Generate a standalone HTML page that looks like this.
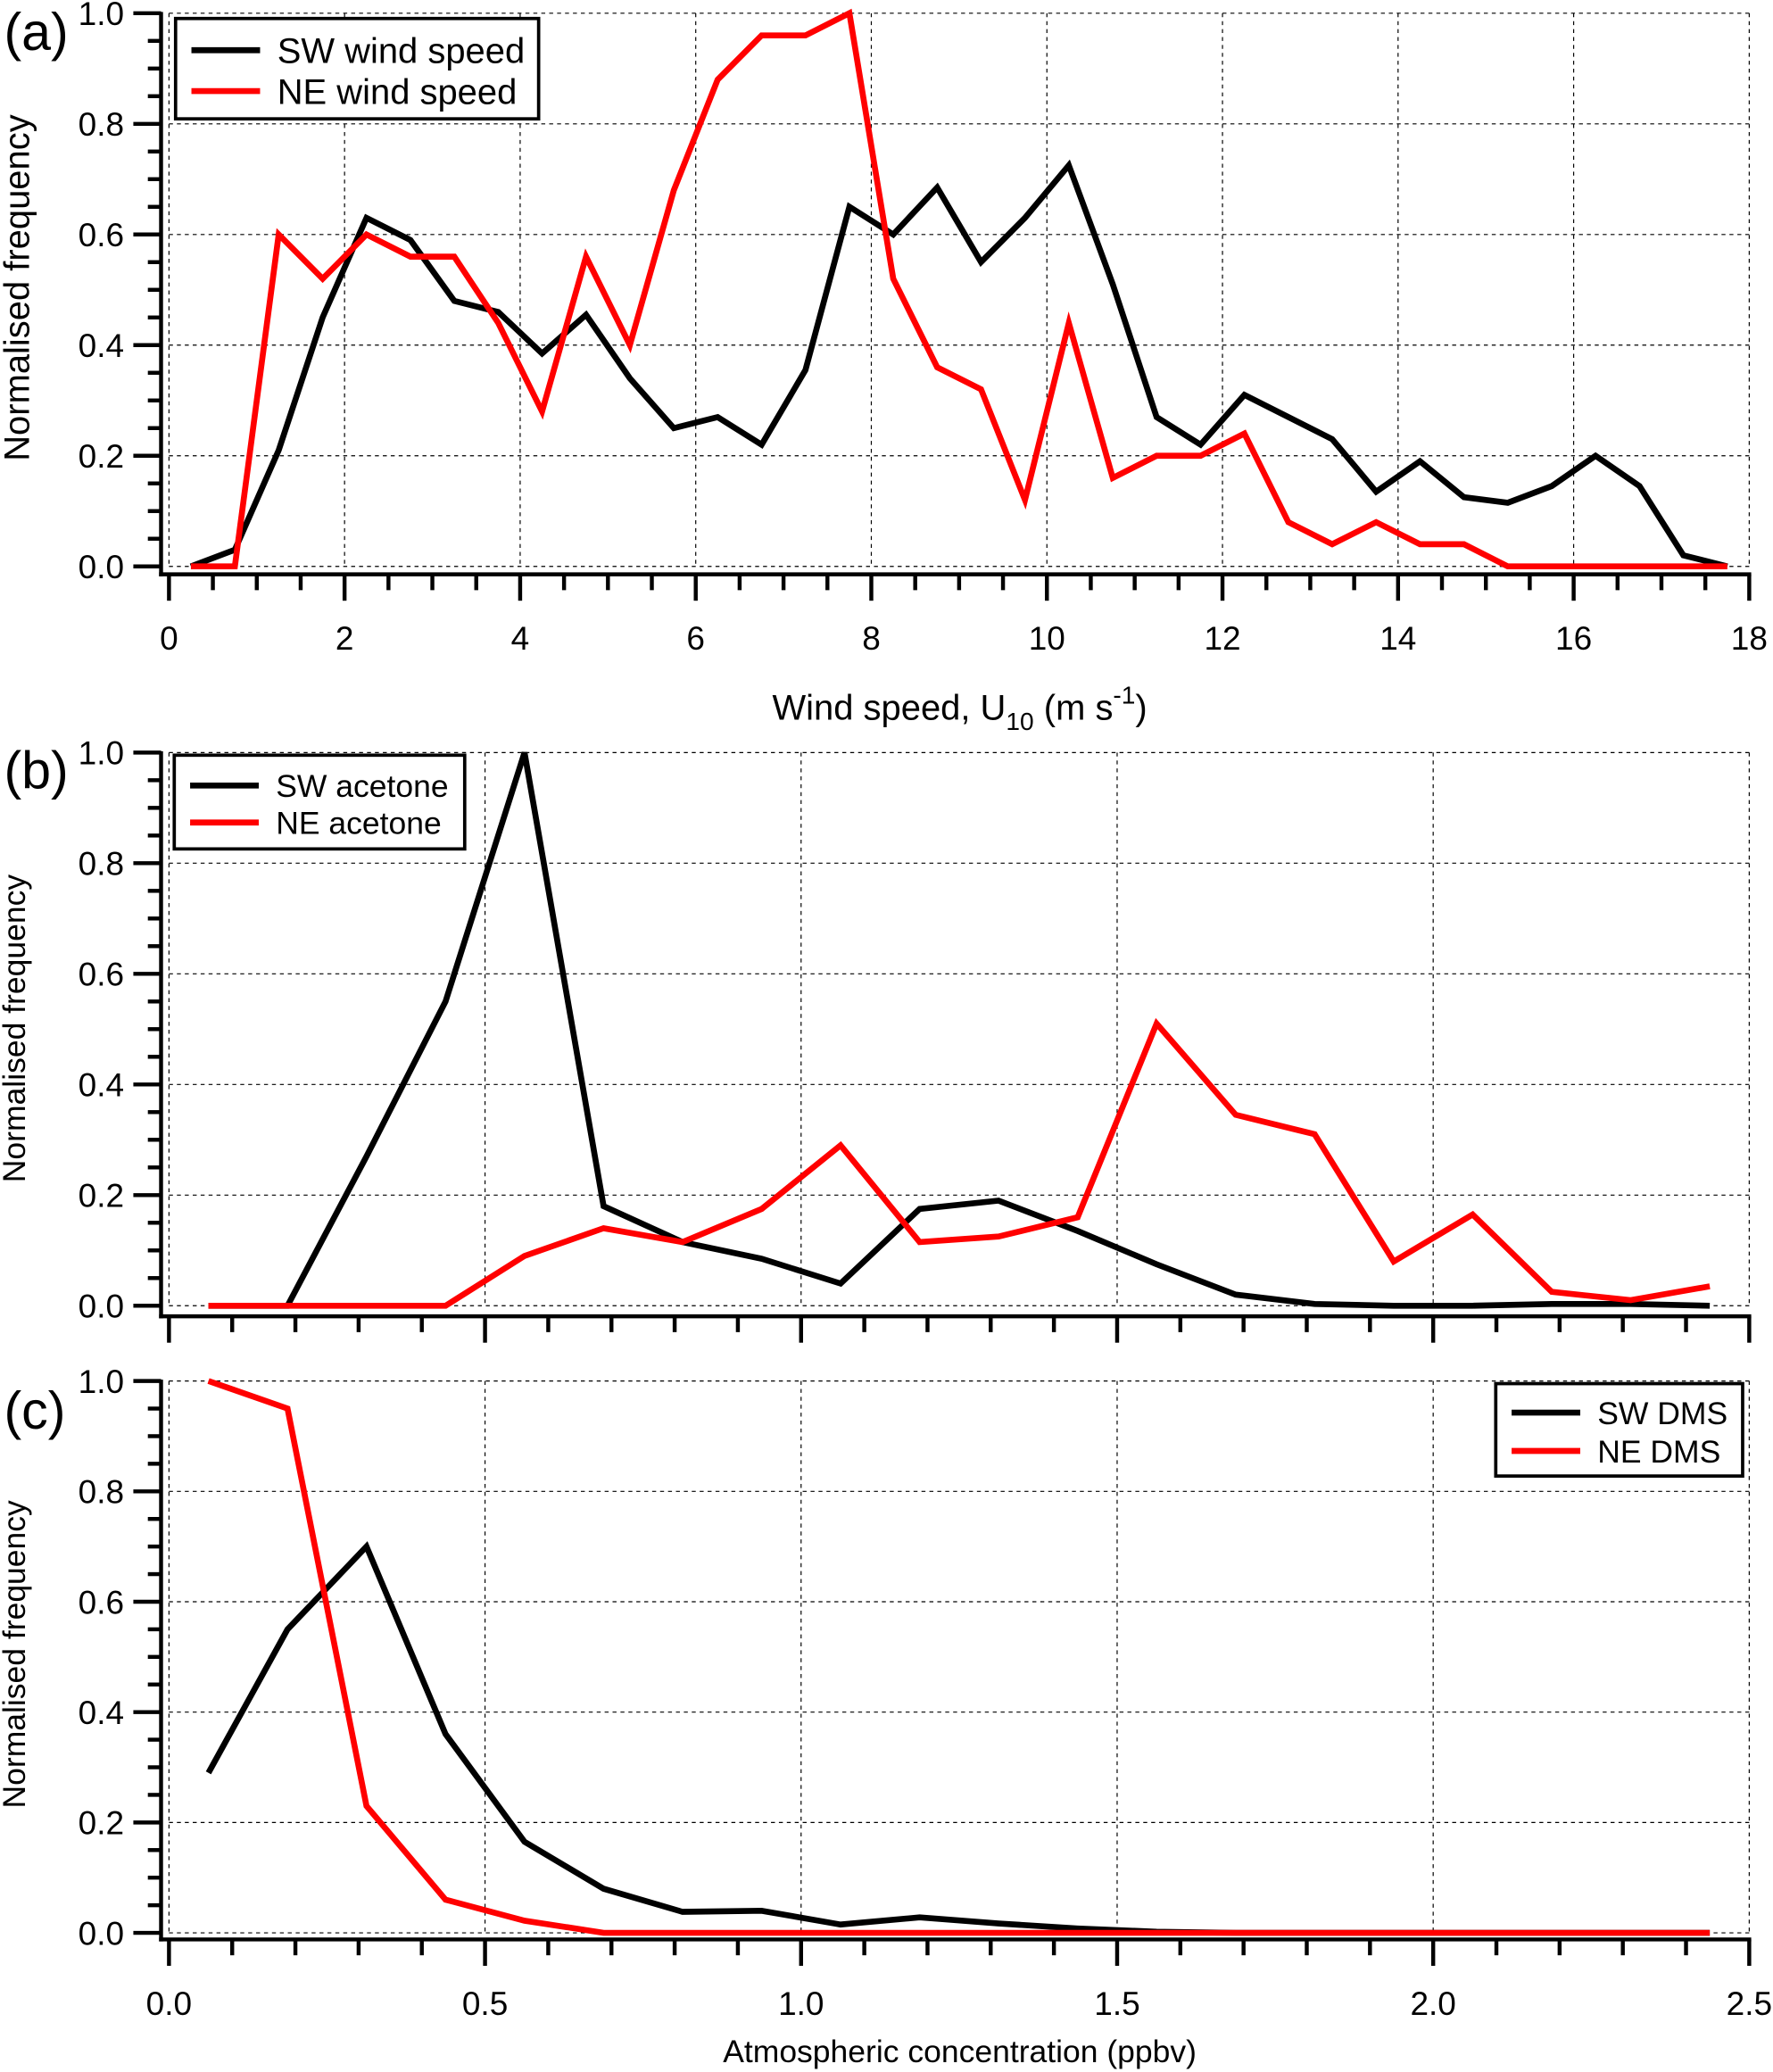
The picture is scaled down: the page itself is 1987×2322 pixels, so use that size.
<!DOCTYPE html>
<html><head><meta charset="utf-8"><style>
html,body{margin:0;padding:0;background:#fff}
svg{display:block}
text{font-family:"Liberation Sans",Arial,sans-serif;fill:#000}
</style></head><body>
<svg id="fig" xmlns="http://www.w3.org/2000/svg" width="1987" height="2322" viewBox="0 0 1343 1569.4">
<rect width="1343" height="1569.4" fill="#fff"/>
</svg>
<script>
const windX = [0.25,0.75,1.25,1.75,2.25,2.75,3.25,3.75,4.25,4.75,5.25,5.75,6.25,6.75,7.25,7.75,8.25,8.75,9.25,9.75,10.25,10.75,11.25,11.75,12.25,12.75,13.25,13.75,14.25,14.75,15.25,15.75,16.25,16.75,17.25,17.75];
const swWind = [0,0.03,0.21,0.45,0.63,0.59,0.48,0.46,0.385,0.455,0.34,0.25,0.27,0.22,0.355,0.65,0.6,0.685,0.55,0.63,0.725,0.51,0.27,0.22,0.31,0.27,0.23,0.135,0.19,0.125,0.115,0.145,0.2,0.145,0.02,0];
const neWind = [0,0,0.6,0.52,0.6,0.56,0.56,0.44,0.28,0.56,0.4,0.68,0.88,0.96,0.96,1.0,0.52,0.36,0.32,0.12,0.44,0.16,0.2,0.2,0.24,0.08,0.04,0.08,0.04,0.04,0,0,0,0,0,0];
const concX = [0.0625,0.1875,0.3125,0.4375,0.5625,0.6875,0.8125,0.9375,1.0625,1.1875,1.3125,1.4375,1.5625,1.6875,1.8125,1.9375,2.0625,2.1875,2.3125,2.4375];
const swAcetone = [0,0,0.27,0.55,1.0,0.18,0.115,0.085,0.04,0.175,0.19,0.135,0.075,0.02,0.003,0,0,0.003,0.003,0];
const neAcetone = [0,0,0,0,0.09,0.14,0.115,0.175,0.29,0.115,0.125,0.16,0.51,0.345,0.31,0.08,0.165,0.025,0.01,0.035];
const swDMS = [0.29,0.55,0.7,0.36,0.165,0.08,0.038,0.04,0.015,0.028,0.017,0.008,0.002,0,0,0,0,0,0,0];
const neDMS = [1.0,0.95,0.23,0.06,0.022,0,0,0,0,0,0,0,0,0,0,0,0,0,0,0];
const windTicks = ['0','2','4','6','8','10','12','14','16','18'];
const concTicks = ['0.0','0.5','1.0','1.5','2.0','2.5'];
const yTicks = ['0.0','0.2','0.4','0.6','0.8','1.0'];

const NS='http://www.w3.org/2000/svg';
const svg=document.getElementById('fig');
function mk(tag,attrs,parent){const e=document.createElementNS(NS,tag);for(const k in attrs)e.setAttribute(k,attrs[k]);(parent||svg).appendChild(e);return e;}
const X0=128,X1=1325,AXL=122;

function panel(cfg){
  const g=mk('g',{});
  
  
  const sx=v=>X0+(v-cfg.xmin)/(cfg.xmax-cfg.xmin)*(X1-X0);
  const sy=v=>cfg.y0+(cfg.y1-cfg.y0)*v;
  const grid=mk('g',{stroke:'#000','stroke-width':0.8,'stroke-dasharray':'3,3',fill:'none'},g);
  
  
  for(let i=0;i<=5;i++){const y=sy(i*0.2);mk('line',{x1:X0,x2:X1,y1:y,y2:y},grid);}
  const nMaj=cfg.ticks.length;
  for(let i=0;i<nMaj;i++){const v=cfg.xmin+i*cfg.majStep;const x=sx(v);mk('line',{x1:x,x2:x,y1:cfg.y1,y2:cfg.y0},grid);}
  const ax=mk('g',{stroke:'#000','stroke-width':3,fill:'none'},g);
  
  
  mk('line',{x1:AXL,x2:AXL,y1:cfg.y1-1,y2:cfg.axB+1.5},ax);
  mk('line',{x1:AXL-1.5,x2:X1+1.5,y1:cfg.axB,y2:cfg.axB},ax);
  for(let k=0;k<=20;k++){const v=k*0.05;const y=sy(v);const maj=k%4===0;mk('line',{x1:maj?101:112,x2:AXL,y1:y,y2:y},ax);}
  const nMin=Math.round((cfg.xmax-cfg.xmin)/cfg.minStep);
  const per=Math.round(cfg.majStep/cfg.minStep);
  for(let k=0;k<=nMin;k++){const x=sx(cfg.xmin+k*cfg.minStep);const maj=k%per===0;mk('line',{x1:x,x2:x,y1:cfg.axB,y2:cfg.axB+(maj?20:12)},ax);}
  yTicks.forEach((t,i)=>{const e=mk('text',{x:94,y:sy(i*0.2)+9,'text-anchor':'end','font-size':25},g);e.textContent=t;
    
    });
  if(cfg.showX){cfg.ticks.forEach((t,i)=>{const e=mk('text',{x:sx(cfg.xmin+i*cfg.majStep),y:cfg.axB+57,'text-anchor':'middle','font-size':25},g);e.textContent=t;
    
    });}
  cfg.series.forEach(s=>{const pts=cfg.xs.map((x,i)=>sx(x).toFixed(1)+','+sy(s.vals[i]).toFixed(1)).join(' ');
    const p=mk('polyline',{points:pts,fill:'none',stroke:s.color,'stroke-width':4.5,'stroke-linejoin':'miter'},g);
    
    });
  const L=mk('text',{x:3,y:cfg.letterY,'font-size':40},g);L.textContent=cfg.letter;
  
  
  const yt=mk('text',{x:0,y:0,'text-anchor':'middle','font-size':cfg.ytSize,transform:`translate(${cfg.ytX},${cfg.ytY}) rotate(-90)`},g);yt.textContent='Normalised frequency';
  
  
  const lg=mk('g',{},g);
  
  
  const b=cfg.legend;
  mk('rect',{x:b.x,y:b.y,width:b.w,height:b.h,fill:'#fff',stroke:'#000','stroke-width':2.5},lg);
  cfg.series.forEach((s,i)=>{const yy=b.rows[i];
    mk('line',{x1:b.x+12,x2:b.x+64,y1:yy,y2:yy,stroke:s.color,'stroke-width':4.5},lg);
    const t=mk('text',{x:b.x+77,y:yy+b.fs*0.36,'font-size':b.fs},lg);t.textContent=s.label;
    
    });
}

panel({name:'panel-a-wind-speed',xmin:0,xmax:18,majStep:2,minStep:0.5,ticks:windTicks,showX:true,y0:429,y1:10,axB:435,xs:windX,
  series:[{name:'sw-wind-line',label:'SW wind speed',color:'#000',vals:swWind},{name:'ne-wind-line',label:'NE wind speed',color:'#f00',vals:neWind}],
  letter:'(a)',letterY:38,ytSize:27,ytX:22,ytY:218,legend:{x:133,y:14,w:275,h:76,rows:[38,69],fs:27}});
panel({name:'panel-b-acetone',xmin:0,xmax:2.5,majStep:0.5,minStep:0.1,ticks:concTicks,showX:false,y0:989,y1:570,axB:997,xs:concX,
  series:[{name:'sw-acetone-line',label:'SW acetone',color:'#000',vals:swAcetone},{name:'ne-acetone-line',label:'NE acetone',color:'#f00',vals:neAcetone}],
  letter:'(b)',letterY:597,ytSize:24,ytX:19,ytY:779,legend:{x:132,y:572,w:220,h:71,rows:[595,623],fs:24}});
panel({name:'panel-c-dms',xmin:0,xmax:2.5,majStep:0.5,minStep:0.1,ticks:concTicks,showX:true,y0:1464,y1:1046,axB:1469,xs:concX,
  series:[{name:'sw-dms-line',label:'SW DMS',color:'#000',vals:swDMS},{name:'ne-dms-line',label:'NE DMS',color:'#f00',vals:neDMS}],
  letter:'(c)',letterY:1082,ytSize:24,ytX:19,ytY:1253,legend:{x:1133,y:1048,w:187,h:70,rows:[1070,1099],fs:24}});

const xa=mk('text',{x:727,y:545,'text-anchor':'middle','font-size':27});


xa.innerHTML='Wind speed, U<tspan font-size="19" dy="8">10</tspan><tspan dy="-8"> (m s</tspan><tspan font-size="19" dy="-12">-1</tspan><tspan dy="12">)</tspan>';
const xc=mk('text',{x:727,y:1562,'text-anchor':'middle','font-size':24});


xc.textContent='Atmospheric concentration (ppbv)';
</script>
</body></html>
